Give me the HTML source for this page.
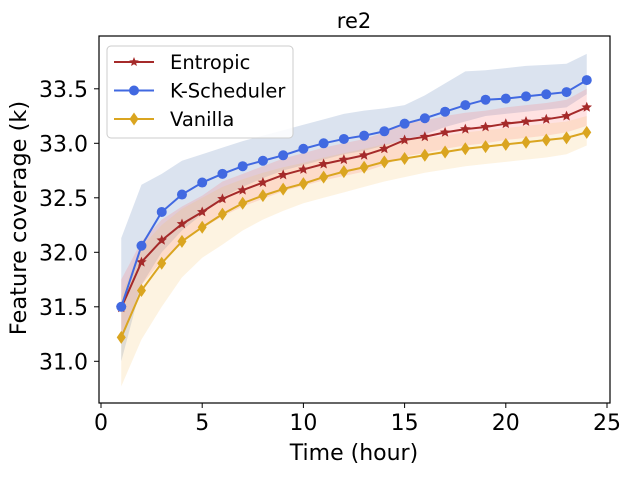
<!DOCTYPE html>
<html><head><meta charset="utf-8"><style>
body{margin:0;background:#fff;}
svg text{font-family:"DejaVu Sans","Liberation Sans",sans-serif;fill:#000;}
</style></head><body>
<svg id="chart" width="631" height="474" xmlns="http://www.w3.org/2000/svg"></svg>
<script>
const hours=[1,2,3,4,5,6,7,8,9,10,11,12,13,14,15,16,17,18,19,20,21,22,23,24];
const kMean=[31.5,32.06,32.37,32.53,32.64,32.72,32.79,32.84,32.89,32.95,33.0,33.04,33.07,33.11,33.18,33.23,33.29,33.35,33.40,33.41,33.43,33.45,33.47,33.58];
const kUpper=[32.13,32.62,32.72,32.84,32.90,32.96,33.02,33.07,33.12,33.17,33.22,33.27,33.30,33.32,33.35,33.44,33.55,33.66,33.67,33.69,33.71,33.72,33.73,33.82];
const kLower=[31.0,31.7,32.0,32.2,32.35,32.5,32.6,32.68,32.75,32.8,32.85,32.9,32.93,32.98,33.03,33.08,33.15,33.2,33.25,33.27,33.29,33.31,33.33,33.45];
const eMean=[31.49,31.91,32.11,32.26,32.37,32.49,32.57,32.64,32.71,32.76,32.81,32.85,32.89,32.95,33.03,33.06,33.10,33.13,33.15,33.18,33.20,33.22,33.25,33.33];
const eUpper=[31.75,32.1,32.3,32.42,32.52,32.65,32.72,32.79,32.86,32.91,32.96,33.0,33.04,33.1,33.18,33.21,33.25,33.28,33.3,33.33,33.35,33.37,33.4,33.5];
const eLower=[31.2,31.7,31.92,32.1,32.22,32.33,32.42,32.49,32.56,32.61,32.66,32.7,32.74,32.8,32.88,32.91,32.95,32.98,33.0,33.03,33.05,33.07,33.1,33.16];
const vMean=[31.22,31.65,31.90,32.10,32.23,32.35,32.45,32.52,32.58,32.63,32.69,32.74,32.78,32.83,32.86,32.89,32.92,32.95,32.97,32.99,33.01,33.03,33.05,33.10];
const vUpper=[31.6,32.05,32.25,32.4,32.5,32.6,32.67,32.73,32.78,32.82,32.87,32.91,32.95,32.99,33.02,33.05,33.07,33.1,33.12,33.14,33.16,33.18,33.2,33.25];
const vLower=[30.77,31.2,31.5,31.77,31.95,32.07,32.2,32.3,32.38,32.45,32.5,32.55,32.6,32.65,32.69,32.73,32.76,32.79,32.81,32.83,32.85,32.87,32.9,32.98];
const xTicks=[0,5,10,15,20,25];
const yTicks=[31.0,31.5,32.0,32.5,33.0,33.5];

const NS="http://www.w3.org/2000/svg";
const svg=document.getElementById('chart');
const L=99,R=610,T=36,B=403;
function xs(v){return 101+v*(607-101)/25;}
function ys(v){return 143.3-(v-33)*109;}
function mk(tag,attrs,parent){const e=document.createElementNS(NS,tag);for(const k in attrs)e.setAttribute(k,attrs[k]);(parent||svg).appendChild(e);return e;}

function band(up,lo,color,name){
  let d='M'+hours.map((h,i)=>xs(h)+','+ys(up[i])).join('L');
  d+='L'+hours.slice().reverse().map((h,j)=>{const i=hours.length-1-j;return xs(h)+','+ys(lo[i]);}).join('L')+'Z';
  const p=mk('path',{d:d,fill:color,'fill-opacity':0.2,stroke:'none'});
  
  
}
band(kUpper,kLower,'#4c72b0','k-scheduler-band');
band(eUpper,eLower,'#ff6f6f','entropic-band');
band(vUpper,vLower,'#f5c36b','vanilla-band');

function star(cx,cy,r){let pts=[];for(let i=0;i<10;i++){const a=-Math.PI/2+i*Math.PI/5;const rr=i%2?r*0.45:r;pts.push((cx+rr*Math.cos(a)).toFixed(1)+','+(cy+rr*Math.sin(a)).toFixed(1));}return pts.join(' ');}
function series(vals,color,shape,name){
  const g=mk('g',{});
  
  
  const l=mk('polyline',{points:hours.map((h,i)=>xs(h)+','+ys(vals[i])).join(' '),fill:'none',stroke:color,'stroke-width':2},g);
  
  
  hours.forEach((h,i)=>{
    const cx=xs(h),cy=ys(vals[i]);let m;
    if(shape==='circle')m=mk('circle',{cx:cx,cy:cy,r:5,fill:color},g);
    else if(shape==='star')m=mk('polygon',{points:star(cx,cy,5.5),fill:color},g);
    else m=mk('polygon',{points:`${cx},${cy-6.5} ${cx+4.5},${cy} ${cx},${cy+6.5} ${cx-4.5},${cy}`,fill:color},g);
    
    
  });
}
series(vMean,'#daa520','diamond','vanilla');
series(eMean,'#a52a2a','star','entropic');
series(kMean,'#4169e1','circle','k-scheduler');

const frame=mk('rect',{x:L,y:T,width:R-L,height:B-T,fill:'none',stroke:'#000','stroke-width':1.2});


xTicks.forEach(t=>{
  const x=xs(t);
  const tk=mk('line',{x1:x,x2:x,y1:B,y2:B+5,stroke:'#000'});
  
  
  const tx=mk('text',{x:x,y:B+27,'text-anchor':'middle','font-size':22});
  tx.textContent=t;
  
  
});
yTicks.forEach(t=>{
  const y=ys(t);
  const tk=mk('line',{x1:L-5,x2:L,y1:y,y2:y,stroke:'#000'});
  
  
  const tx=mk('text',{x:L-11,y:y+8,'text-anchor':'end','font-size':22});
  tx.textContent=t.toFixed(1);
  
  
});
const title=mk('text',{x:354,y:28,'text-anchor':'middle','font-size':21});
title.textContent='re2';


const xl=mk('text',{x:354,y:460,'text-anchor':'middle','font-size':22});
xl.textContent='Time (hour)';


const yl=mk('text',{x:0,y:0,'text-anchor':'middle','font-size':22.5,transform:'translate(26,218) rotate(-90)'});
yl.textContent='Feature coverage (k)';



const lg=mk('g',{});


mk('rect',{x:107,y:46,width:186,height:92,rx:4,fill:'#fff','fill-opacity':0.85,stroke:'#ccc'},lg);
const entries=[['Entropic','#a52a2a','star'],['K-Scheduler','#4169e1','circle'],['Vanilla','#daa520','diamond']];
entries.forEach((en,i)=>{
  const y=62+i*28.5;
  const e=mk('g',{},lg);
  
  
  mk('line',{x1:114,x2:154,y1:y,y2:y,stroke:en[1],'stroke-width':2},e);
  if(en[2]==='circle')mk('circle',{cx:134,cy:y,r:5,fill:en[1]},e);
  else if(en[2]==='star')mk('polygon',{points:star(134,y,5),fill:en[1]},e);
  else mk('polygon',{points:`134,${y-6.5} 138.5,${y} 134,${y+6.5} 129.5,${y}`,fill:en[1]},e);
  const t=mk('text',{x:170,y:y+7,'font-size':19.5},e);
  t.textContent=en[0];
});
</script>
</body></html>
